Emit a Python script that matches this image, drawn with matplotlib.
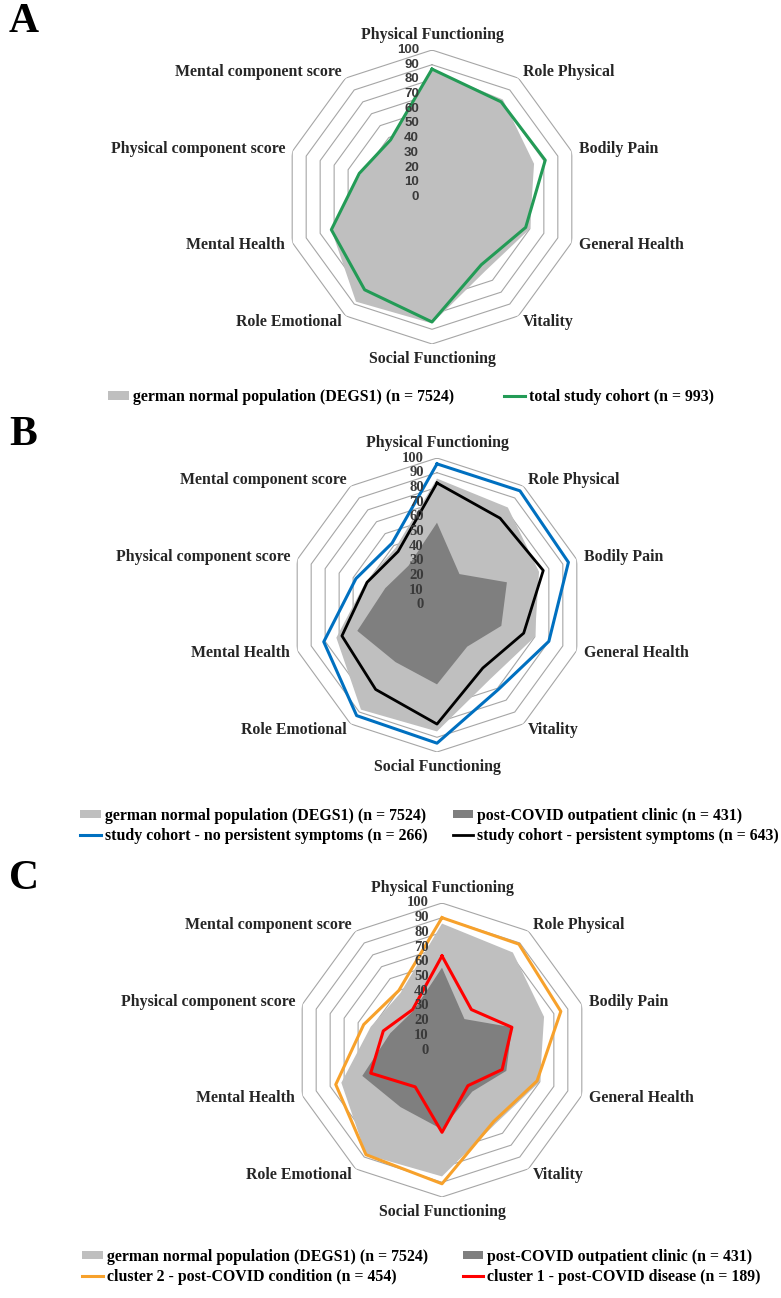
import numpy as np
import matplotlib.pyplot as plt
from matplotlib.patches import Patch
from matplotlib.lines import Line2D

## SF-36 domains, clockwise from the top
categories = ["Physical Functioning", "Role Physical", "Bodily Pain", "General Health",
              "Vitality", "Social Functioning", "Role Emotional", "Mental Health",
              "Physical component score", "Mental component score"]
ticks = list(range(0, 101, 10))

## values
degs1 = [86, 82, 73, 70, 62, 86, 88, 72, 51, 48]
total_cohort = [87, 80, 81, 67, 57, 85, 78, 72, 52, 48]
no_persistent = [96, 96, 94, 80, 71, 94, 93, 81, 58, 52]
persistent = [83, 73, 76, 62, 53, 81, 71, 68, 50, 45]
clinic = [56, 26, 50, 46, 35, 54, 48, 57, 37, 33]
cluster2 = [90, 89, 85, 68, 60, 91, 88, 76, 56, 50]
cluster1 = [64, 34, 50, 43, 30, 56, 31, 51, 42, 34]

W, H = 781, 1298
fig = plt.figure(figsize=(W / 100, H / 100), dpi=100)

serif = "Liberation Serif"
R = 147
light = "#BFBFBF"
dark = "#7F7F7F"

angles = np.linspace(0, 2 * np.pi, len(categories), endpoint=False)
theta = np.append(angles, angles[0])


def closed(v):
    return list(v) + [v[0]]


def radar(cx, cy, tick_family, tick_size):
    ax = fig.add_axes([(cx - R) / W, 1 - (cy + R) / H, 2 * R / W, 2 * R / H], projection="polar")
    ax.set_theta_zero_location("N")
    ax.set_theta_direction(-1)
    ax.set_ylim(0, 100)
    ax.set_xticks([])
    ax.set_yticks([])
    ax.grid(False)
    ax.spines["polar"].set_visible(False)
    ax.patch.set_alpha(0)
    # decagon grid
    for t in ticks[1:]:
        ax.plot(theta, [t] * len(theta), color="#A6A6A6", lw=0.8, zorder=0)
    for t in ticks:
        ax.annotate(str(t), xy=(0, t), xytext=(-9.5, 0), textcoords="offset points",
                    ha="right", va="center", fontsize=tick_size, fontweight="bold",
                    family=tick_family, color="#3A3A3A", zorder=10)
    for a, name in zip(angles, categories):
        deg = np.degrees(a)
        if np.isclose(deg, 0) or np.isclose(deg, 180):
            ha, r = "center", 110
        elif deg < 180:
            ha, r = "left", 105
        else:
            ha, r = "right", 105
        ax.text(a, r, name, ha=ha, va="center", fontsize=11.4, fontweight="bold",
                family=serif, color="#262626")
    return ax


def add_legend(handles, labels, x, y, colsp):
    fig.legend(handles, labels, loc="center left", bbox_to_anchor=(x / W, 1 - y / H),
               ncol=2, frameon=False, borderpad=0, borderaxespad=0,
               prop=dict(family=serif, weight="bold", size=11.4),
               handlelength=1.3, handleheight=0.45, handletextpad=0.25,
               columnspacing=colsp, labelspacing=0.28)


def letter(s, y):
    fig.text(9 / W, 1 - y / H, s, ha="left", va="baseline", fontsize=30,
             fontweight="bold", family=serif, color="black")


## A
ax = radar(432, 197, "Liberation Sans", 9.5)
ax.fill(theta, closed(degs1), color=light, lw=0, zorder=1)
ax.plot(theta, closed(total_cohort), color="#239B56", lw=2.2, zorder=3)
letter("A", 32)
add_legend([Patch(facecolor=light), Line2D([], [], color="#239B56", lw=2.2)],
           ["german normal population (DEGS1) (n = 7524)", "total study cohort (n = 993)"],
           108, 397, 3.2)

## B
ax = radar(437, 605, serif, 10.5)
ax.fill(theta, closed(degs1), color=light, lw=0, zorder=1)
ax.fill(theta, closed(clinic), color=dark, lw=0, zorder=2)
ax.plot(theta, closed(no_persistent), color="#0070C0", lw=2.2, zorder=3)
ax.plot(theta, closed(persistent), color="black", lw=2.0, zorder=3)
letter("B", 445)
add_legend([Patch(facecolor=light), Line2D([], [], color="#0070C0", lw=2.2),
            Patch(facecolor=dark), Line2D([], [], color="black", lw=2.0)],
           ["german normal population (DEGS1) (n = 7524)",
            "study cohort - no persistent symptoms (n = 266)",
            "post-COVID outpatient clinic (n = 431)",
            "study cohort - persistent symptoms (n = 643)"],
           80, 826, 1.6)

## C
ax = radar(442, 1050, serif, 10.5)
ax.fill(theta, closed(degs1), color=light, lw=0, zorder=1)
ax.fill(theta, closed(clinic), color=dark, lw=0, zorder=2)
ax.plot(theta, closed(cluster2), color="#F7A12B", lw=2.2, zorder=3)
ax.plot(theta, closed(cluster1), color="#FF0000", lw=2.2, zorder=3)
letter("C", 889)
add_legend([Patch(facecolor=light), Line2D([], [], color="#F7A12B", lw=2.2),
            Patch(facecolor=dark), Line2D([], [], color="#FF0000", lw=2.2)],
           ["german normal population (DEGS1) (n = 7524)",
            "cluster 2 - post-COVID condition (n = 454)",
            "post-COVID outpatient clinic (n = 431)",
            "cluster 1 - post-COVID disease (n = 189)"],
           82, 1267, 2.2)

fig.savefig("out.png", dpi=100, facecolor="white")
